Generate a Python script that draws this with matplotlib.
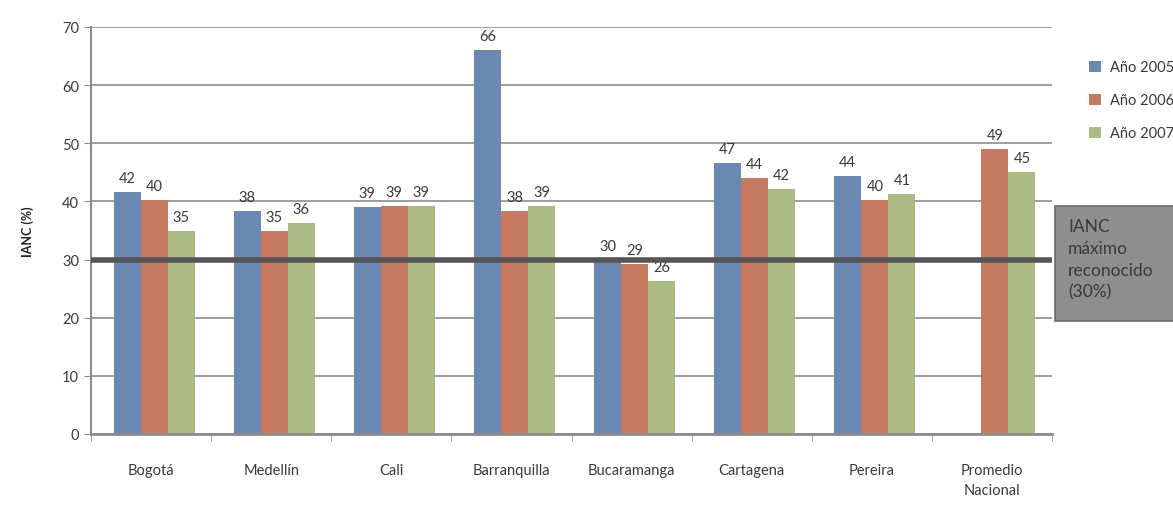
import numpy as np
import matplotlib
matplotlib.use('Agg')
import matplotlib.pyplot as plt
from matplotlib.patches import Rectangle

plt.rcParams['font.family'] = ['Lato', 'DejaVu Sans']

cities = ['Bogotá', 'Medellín', 'Cali', 'Barranquilla', 'Bucaramanga',
          'Cartagena', 'Pereira', 'Promedio\nNacional']
anio_2005 = [41.7, 38.3, 39.0, 66.0, 30.0, 46.6, 44.4, np.nan]
anio_2006 = [40.2, 35.0, 39.2, 38.3, 29.2, 44.0, 40.2, 49.0]
anio_2007 = [35.0, 36.3, 39.2, 39.2, 26.4, 42.2, 41.2, 45.0]
series_names = ['Año 2005', 'Año 2006', 'Año 2007']
limite = 30
limite_text = 'IANC\nmáximo\nreconocido\n(30%)'

colors = ['#6a88b2', '#c77a62', '#abbb84']
text_col = '#3a3a3a'
grid_col = '#8c8c8c'

fig = plt.figure(figsize=(11.73, 5.10), dpi=100)
ax = fig.add_axes([91 / 1173, 75 / 510, (1052 - 91) / 1173, (435 - 28) / 510])

x = np.arange(len(cities))
w = 0.225
for i, (vals, name) in enumerate(zip([anio_2005, anio_2006, anio_2007], series_names)):
    pos = x + (i - 1) * w + 0.025
    ax.bar(pos, vals, w, color=colors[i], label=name, zorder=2)
    for p, v in zip(pos, vals):
        if np.isnan(v):
            continue
        ax.text(p, v + 1.2, '%.0f' % v, ha='center', va='bottom',
                fontsize=10.5, color=text_col)

ax.axhline(limite, color='#555555', lw=4, zorder=3)

ax.set_xlim(-0.5, len(cities) - 0.5)
ax.set_ylim(0, 70)
ax.set_yticks(range(0, 71, 10))
ax.yaxis.grid(True, color=grid_col, lw=1.2, zorder=0)
ax.set_axisbelow(True)

ax.set_xticks(x)
ax.set_xticklabels(cities, fontsize=10.5, color=text_col, linespacing=1.5)
ax.set_xticks(np.arange(-0.5, len(cities)), minor=True)
ax.tick_params(axis='x', which='major', length=0, pad=21)
ax.tick_params(axis='x', which='minor', length=5, color=grid_col, direction='out')
ax.tick_params(axis='y', length=5, color=grid_col, labelsize=10.5, labelcolor=text_col)

for s in ['top', 'right']:
    ax.spines[s].set_visible(False)
ax.spines['left'].set_color(grid_col)
ax.spines['left'].set_linewidth(1.5)
ax.spines['bottom'].set_color(grid_col)
ax.spines['bottom'].set_linewidth(2)

ax.set_ylabel('IANC (%)', fontsize=9, fontweight='bold', color='#222222', labelpad=20)

leg = ax.legend(loc='upper left', bbox_to_anchor=(1.025, 0.95), frameon=False,
                fontsize=10.5, handlelength=0.8, handleheight=0.8, labelspacing=1.3,
                handletextpad=0.6)
for t in leg.get_texts():
    t.set_color(text_col)

# caja gris del limite
box = Rectangle((1055 / 1173, (510 - 322) / 510), 130 / 1173, 115 / 510,
                transform=fig.transFigure, facecolor='#8e8e8e',
                edgecolor='#6a6a6a', lw=1.2)
fig.patches.append(box)
fig.text(1068 / 1173, (510 - 219) / 510, limite_text, fontsize=12.5,
         color='#3a3a3a', va='top', ha='left', linespacing=1.45)

fig.savefig('out.png', dpi=100, facecolor='white')
